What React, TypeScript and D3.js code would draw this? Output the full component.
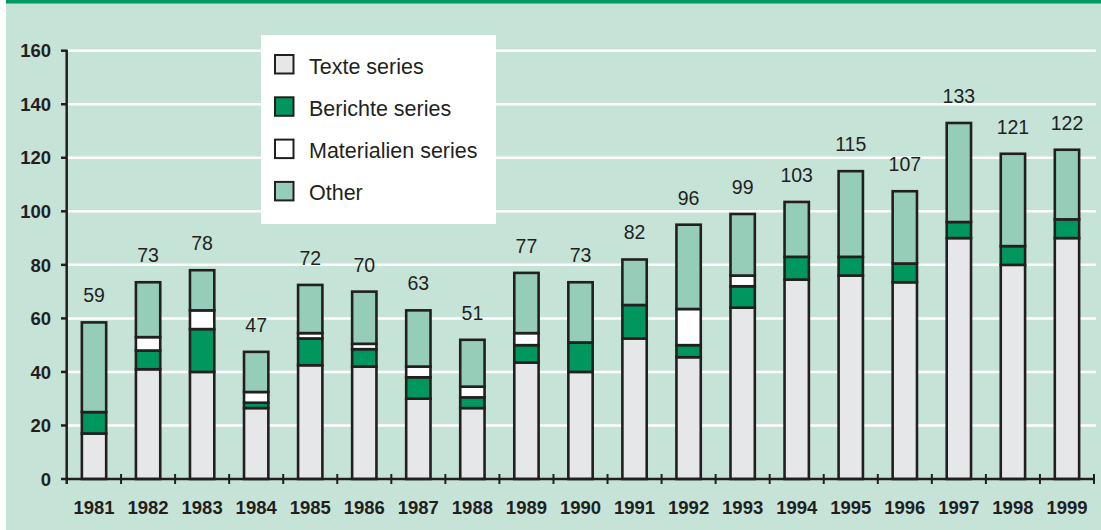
import React from "react";
import * as d3 from "d3";

const years = ["1981", "1982", "1983", "1984", "1985", "1986", "1987", "1988", "1989", "1990", "1991", "1992", "1993", "1994", "1995", "1996", "1997", "1998", "1999"];
const texte = [17, 41, 40, 26.5, 42.5, 42, 30, 26.5, 43.5, 40, 52.5, 45.5, 64, 74.5, 76, 73.5, 90, 80, 90];
const berichte = [8, 7, 16, 2, 10, 6.5, 8, 4, 6.5, 11, 12.5, 4.5, 8, 8.5, 7, 7, 6, 7, 7];
const materialien = [0, 5, 7, 4, 2, 2, 4, 4, 4.5, 0, 0, 13.5, 4, 0, 0, 0, 0, 0, 0];
const other = [33.5, 20.5, 15, 15, 18, 19.5, 21, 17.5, 22.5, 22.5, 17, 31.5, 23, 20.5, 32, 27, 37, 34.5, 26];
const totals = [59, 73, 78, 47, 72, 70, 63, 51, 77, 73, 82, 96, 99, 103, 115, 107, 133, 121, 122];
const yTicks = [0, 20, 40, 60, 80, 100, 120, 140, 160];

const seriesNames = ["Texte series", "Berichte series", "Materialien series", "Other"];
const seriesColors = ["#e6e7e8", "#00975f", "#ffffff", "#96cdb8"];

const W = 1101;
const H = 530;
const INK = "#231f20";
const FONT = "'Liberation Sans', Arial, sans-serif";

export default function App() {
  const x = d3.scaleBand<string>().domain(years).range([67, 1094]).paddingInner(0.55).paddingOuter(0.275);
  const y = d3.scaleLinear().domain([0, 160]).range([479, 50.7]);

  const table = years.map((yr, i) => ({
    year: yr,
    texte: texte[i],
    berichte: berichte[i],
    materialien: materialien[i],
    other: other[i],
  }));
  const keys = ["texte", "berichte", "materialien", "other"];
  const stacked = d3.stack<any>().keys(keys)(table);

  const x0 = x.range()[0];
  const step = x.step();
  const boundaries = d3.range(years.length + 1).map((i) => x0 + i * step);

  return (
    <svg width={W} height={H} style={{ position: "absolute", left: 0, top: 0 }} fontFamily={FONT}>
      <rect x={0} y={0} width={W} height={H} fill="#ffffff" />
      <rect x={6} y={0} width={W - 6} height={H} fill="#c6e3d8" />
      <rect x={6} y={0} width={W - 6} height={3.5} fill="#009966" />

      {/* grid */}
      {yTicks.filter((t) => t > 0).map((t) => (
        <line key={t} x1={67} x2={1096} y1={y(t)} y2={y(t)} stroke="#ffffff" strokeWidth={2.5} />
      ))}

      {/* legend */}
      <rect x={261} y={35} width={235} height={189} fill="#ffffff" />
      {seriesNames.map((name, i) => {
        const base = 73.5 + i * 42.3;
        return (
          <g key={name}>
            <rect x={275} y={base - 18.5} width={18.5} height={18.5} fill={seriesColors[i]} stroke={INK} strokeWidth={2} />
            <text x={309} y={base} fontSize={21.5} fill={INK}>{name}</text>
          </g>
        );
      })}

      {/* bars */}
      {stacked.map((layer, k) => (
        <g key={layer.key}>
          {layer.map((d, i) => {
            const h = y(d[0]) - y(d[1]);
            if (h <= 0) return null;
            return (
              <rect
                key={i}
                x={x(years[i])}
                y={y(d[1])}
                width={x.bandwidth()}
                height={h}
                fill={seriesColors[k]}
                stroke={INK}
                strokeWidth={2.6}
              />
            );
          })}
        </g>
      ))}

      {/* total labels */}
      {years.map((yr, i) => {
        const top = stacked[stacked.length - 1][i][1];
        return (
          <text key={yr} x={(x(yr) as number) + x.bandwidth() / 2} y={y(top) - 20} textAnchor="middle" fontSize={19.5} fill={INK}>
            {totals[i]}
          </text>
        );
      })}

      {/* y axis */}
      <line x1={66.7} x2={66.7} y1={y(160) - 1} y2={484} stroke={INK} strokeWidth={2.5} />
      {yTicks.map((t) => (
        <g key={t}>
          <line x1={61} x2={66.7} y1={y(t)} y2={y(t)} stroke={INK} strokeWidth={2.5} />
          <text x={51} y={y(t)} dy="0.36em" textAnchor="end" fontSize={18.5} fontWeight="bold" fill={INK}>
            {t}
          </text>
        </g>
      ))}

      {/* x axis */}
      <line x1={66.7} x2={1095} y1={y(0)} y2={y(0)} stroke={INK} strokeWidth={2.5} />
      {boundaries.slice(1).map((b, i) => (
        <line key={i} x1={b} x2={b} y1={474} y2={484} stroke={INK} strokeWidth={2} />
      ))}
      {years.map((yr) => (
        <text key={yr} x={(x(yr) as number) + x.bandwidth() / 2} y={514} textAnchor="middle" fontSize={18.5} fontWeight="bold" fill={INK}>
          {yr}
        </text>
      ))}
    </svg>
  );
}
